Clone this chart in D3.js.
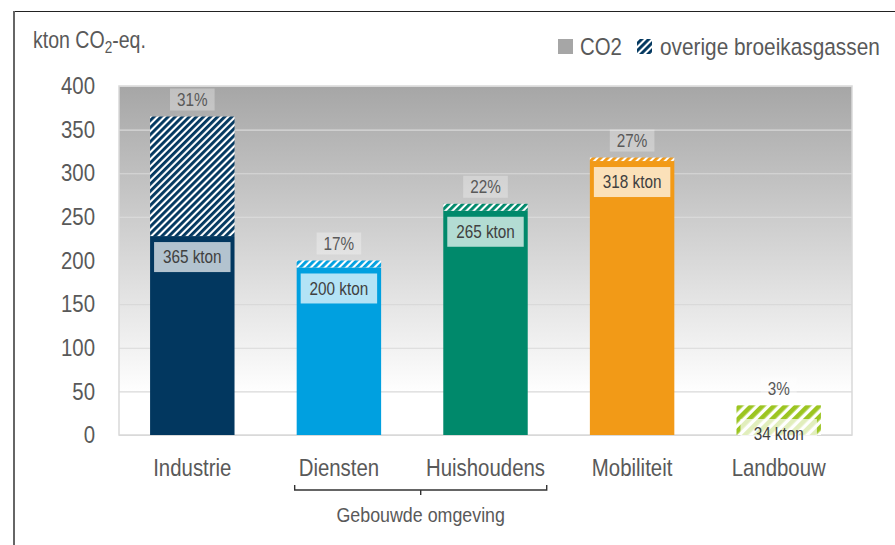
<!DOCTYPE html>
<html>
<head>
<meta charset="utf-8">
<script src="https://cdn.jsdelivr.net/npm/d3@7"></script>
<style>
  body { margin: 0; background: #fff; }
  svg text { font-family: "Liberation Sans", Arial, sans-serif; fill: #595959; }
</style>
</head>
<body>
<div id="chart"></div>
<script>
// data
const categories = ['Industrie', 'Diensten', 'Huishoudens', 'Mobiliteit', 'Landbouw'];
const co2Values = [228, 192, 257, 314, 0];
const otherValues = [137, 8, 8, 4, 34];
const shareLabels = ['31%', '17%', '22%', '27%', '3%'];
const yTicks = [0, 50, 100, 150, 200, 250, 300, 350, 400];
const groupMembers = ['Diensten', 'Huishoudens'];
const groupLabel = 'Gebouwde omgeving';
const legendLabels = ['CO2', 'overige broeikasgassen'];

// styles
const colors = ['#02375f', '#00a0e0', '#00896b', '#f29a17', '#9cc521'];
const hatchSize = [5, 5, 5, 5, 8];
const squeeze = 0.85; // the original uses a condensed face

const width = 895;
const height = 545;
const plot = { left: 119, right: 852, top: 86, bottom: 435 };

// fake a condensed font: scale text horizontally around its anchor
function narrow(sel) {
  sel.each(function() {
    const t = d3.select(this);
    const tx = +t.attr('x') || 0;
    const ty = +t.attr('y') || 0;
    t.attr('x', 0).attr('y', 0)
      .attr('transform', `translate(${tx},${ty}) scale(${squeeze},1)`);
  });
}

const svg = d3.select('#chart').append('svg')
  .attr('width', width)
  .attr('height', height);

const defs = svg.append('defs');

const grad = defs.append('linearGradient')
  .attr('id', 'bg')
  .attr('x1', 0).attr('y1', 0).attr('x2', 0).attr('y2', 1);
grad.append('stop').attr('offset', '0%').attr('stop-color', '#a6a6a6');
grad.append('stop').attr('offset', '88%').attr('stop-color', '#ffffff');

categories.forEach((c, i) => {
  const w = hatchSize[i];
  const p = defs.append('pattern')
    .attr('id', 'hatch' + i)
    .attr('patternUnits', 'userSpaceOnUse')
    .attr('width', w).attr('height', w)
    .attr('patternTransform', 'rotate(45)');
  p.append('rect').attr('width', w).attr('height', w).attr('fill', '#fff');
  p.append('rect').attr('width', w * 0.58).attr('height', w).attr('fill', colors[i]);
});

// scales
const x = d3.scaleBand()
  .domain(categories)
  .range([plot.left, plot.right])
  .paddingInner(0.424)
  .paddingOuter(0.212);

const y = d3.scaleLinear()
  .domain([0, 400])
  .range([plot.bottom, plot.top]);

// outer frame
svg.append('line')
  .attr('x1', 14).attr('x2', width).attr('y1', 11.5).attr('y2', 11.5)
  .attr('stroke', '#222').attr('stroke-width', 1.2);
svg.append('line')
  .attr('x1', 14).attr('x2', 14).attr('y1', 11).attr('y2', height)
  .attr('stroke', '#666').attr('stroke-width', 2);

// plot background
svg.append('rect')
  .attr('x', plot.left).attr('y', plot.top)
  .attr('width', plot.right - plot.left)
  .attr('height', plot.bottom - plot.top)
  .attr('fill', 'url(#bg)');

// gridlines
svg.append('g')
  .attr('transform', `translate(${plot.left},0)`)
  .call(d3.axisLeft(y).tickValues(yTicks).tickSize(-(plot.right - plot.left)).tickFormat(''))
  .call(g => g.select('.domain').remove())
  .call(g => g.selectAll('line').attr('stroke', '#d9d9d9').attr('stroke-width', 1.2));

svg.append('rect')
  .attr('x', plot.left).attr('y', plot.top)
  .attr('width', plot.right - plot.left)
  .attr('height', plot.bottom - plot.top)
  .attr('fill', 'none')
  .attr('stroke', '#d9d9d9')
  .attr('stroke-width', 1.5);

// y axis labels
svg.append('g')
  .attr('transform', `translate(${plot.left},0)`)
  .call(d3.axisLeft(y).tickValues(yTicks).tickSize(0).tickPadding(24))
  .call(g => g.select('.domain').remove())
  .call(g => g.selectAll('text')
    .style('font-size', '24px')
    .attr('fill', null)
    .call(narrow));

// y title
const yTitle = svg.append('text')
  .attr('x', 33).attr('y', 48)
  .style('font-size', '23px');
yTitle.append('tspan').text('kton CO');
yTitle.append('tspan').text('2').attr('dy', 5).style('font-size', '16px');
yTitle.append('tspan').text('-eq.').attr('dy', -5);
yTitle.call(narrow);

// bars
const bars = svg.append('g').selectAll('g')
  .data(categories)
  .join('g');

bars.append('rect')
  .attr('x', d => x(d))
  .attr('width', x.bandwidth())
  .attr('y', (d, i) => y(co2Values[i]))
  .attr('height', (d, i) => y(0) - y(co2Values[i]))
  .attr('fill', (d, i) => colors[i]);

bars.append('rect')
  .attr('x', d => x(d))
  .attr('width', x.bandwidth())
  .attr('y', (d, i) => y(co2Values[i] + otherValues[i]))
  .attr('height', (d, i) => y(co2Values[i]) - y(co2Values[i] + otherValues[i]))
  .attr('fill', (d, i) => `url(#hatch${i})`);

// share labels above bars
bars.each(function(d, i) {
  const g = d3.select(this);
  const cx = x(d) + x.bandwidth() / 2;
  const cy = y(co2Values[i] + otherValues[i]) - 17;
  const box = g.append('rect');
  const t = g.append('text')
    .attr('x', cx).attr('y', cy)
    .attr('dy', '0.35em')
    .attr('text-anchor', 'middle')
    .style('font-size', '18px')
    .text(shareLabels[i]);
  const tw = t.node().getComputedTextLength() * squeeze;
  t.call(narrow);
  box.attr('x', cx - tw / 2 - 7).attr('width', tw + 14)
    .attr('y', cy - 11).attr('height', 22)
    .attr('fill', '#fff').attr('fill-opacity', 0.3);
});

// total labels
bars.each(function(d, i) {
  const g = d3.select(this);
  const total = co2Values[i] + otherValues[i];
  const top = Math.min(y(co2Values[i]) + 6, y(0) - 16);
  g.append('rect')
    .attr('x', x(d) + 4).attr('width', x.bandwidth() - 8)
    .attr('y', top).attr('height', 30)
    .attr('fill', '#fff').attr('fill-opacity', 0.7);
  g.append('text')
    .attr('x', x(d) + x.bandwidth() / 2).attr('y', top + 15)
    .attr('dy', '0.35em')
    .attr('text-anchor', 'middle')
    .style('font-size', '18px')
    .style('fill', '#404040')
    .text(`${total} kton`)
    .call(narrow);
});

// category labels
svg.append('g').selectAll('text')
  .data(categories)
  .join('text')
  .attr('x', d => x(d) + x.bandwidth() / 2)
  .attr('y', 476)
  .attr('text-anchor', 'middle')
  .style('font-size', '24px')
  .text(d => d)
  .call(narrow);

// bracket for building group
const bx0 = x(groupMembers[0]) - 2;
const bx1 = x(groupMembers[1]) + x.bandwidth() + 19;
const bmid = (bx0 + bx1) / 2;
svg.append('path')
  .attr('d', `M${bx0},485 V490 H${bx1} V485 M${bmid},490 V495`)
  .attr('fill', 'none')
  .attr('stroke', '#333')
  .attr('stroke-width', 1.4);
svg.append('text')
  .attr('x', bmid).attr('y', 522)
  .attr('text-anchor', 'middle')
  .style('font-size', '21px')
  .text(groupLabel)
  .call(narrow);

// legend
const legend = svg.append('g');
legend.append('rect')
  .attr('x', 558).attr('y', 39).attr('width', 15).attr('height', 15)
  .attr('fill', '#a6a6a6');
legend.append('text')
  .attr('x', 580).attr('y', 55)
  .style('font-size', '24px')
  .text(legendLabels[0])
  .call(narrow);
legend.append('rect')
  .attr('x', 637).attr('y', 39).attr('width', 15).attr('height', 15)
  .attr('fill', 'url(#hatch0)');
legend.append('text')
  .attr('x', 660).attr('y', 55)
  .style('font-size', '24.5px')
  .text(legendLabels[1])
  .call(narrow);
</script>
</body>
</html>
